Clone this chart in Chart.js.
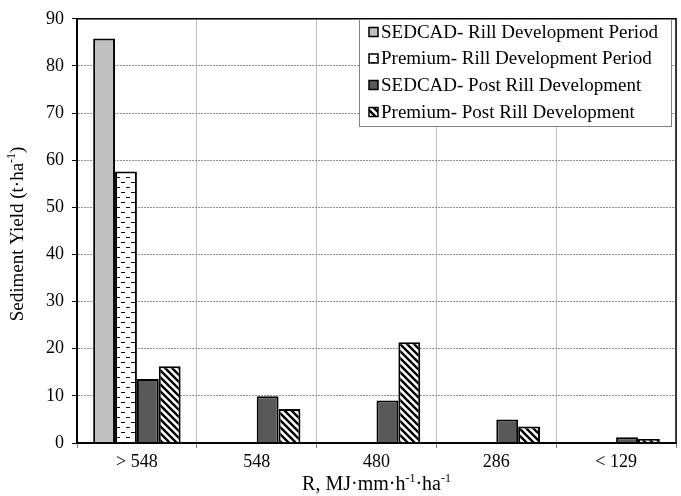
<!DOCTYPE html>
<html>
<head>
<meta charset="utf-8">
<script src="https://cdn.jsdelivr.net/npm/chart.js@4/dist/chart.umd.min.js"></script>
<style>
html,body{margin:0;padding:0;background:#fff;}
#wrap{width:681px;height:496px;position:relative;}
</style>
</head>
<body>
<div id="wrap"><canvas id="c" width="681" height="496"></canvas></div>
<script>
// ---- data ----
const categories = ['> 548', '548', '480', '286', '< 129'];
const seriesLabels = [
  'SEDCAD- Rill Development Period',
  'Premium- Rill Development Period',
  'SEDCAD- Post Rill Development',
  'Premium- Post Rill Development'
];
const sedcadRill = [85.8, null, null, null, null];
const premiumRill = [57.6, null, null, null, null];
const sedcadPost = [13.6, 9.9, 9.0, 5.0, 1.2];
const premiumPost = [16.3, 7.2, 21.4, 3.5, 0.85];
const yTicks = [0, 10, 20, 30, 40, 50, 60, 70, 80, 90];

const FONT = "'Liberation Serif', 'Times New Roman', serif";

// ---- patterns ----
function dashPattern() {
  const c = document.createElement('canvas');
  c.width = 10; c.height = 10;
  const g = c.getContext('2d');
  g.fillStyle = '#fff'; g.fillRect(0, 0, 10, 10);
  g.fillStyle = '#000';
  g.fillRect(1, 2, 4, 1);
  g.fillRect(6, 7, 4, 1);
  return g.createPattern(c, 'repeat');
}
function diagPattern() {
  const s = 7;
  const c = document.createElement('canvas');
  c.width = s; c.height = s;
  const g = c.getContext('2d');
  g.fillStyle = '#fff'; g.fillRect(0, 0, s, s);
  g.strokeStyle = '#000'; g.lineWidth = 2.4;
  g.beginPath();
  g.moveTo(-s, -s); g.lineTo(2 * s, 2 * s);
  g.moveTo(-s, 0); g.lineTo(s, 2 * s);
  g.moveTo(0, -s); g.lineTo(2 * s, s);
  g.stroke();
  return g.createPattern(c, 'repeat');
}
const fills = ['#c0c0c0', dashPattern(), '#595959', diagPattern()];
const seriesData = [sedcadRill, premiumRill, sedcadPost, premiumPost];

// ---- helpers ----
function drawRich(ctx, parts, cx, cy, size) {
  const supSize = Math.round(size * 0.62);
  let w = 0;
  parts.forEach(p => {
    ctx.font = (p.sup ? supSize : size) + 'px ' + FONT;
    p.w = ctx.measureText(p.t).width; w += p.w;
  });
  let x = cx - w / 2;
  ctx.textBaseline = 'middle';
  ctx.textAlign = 'left';
  parts.forEach(p => {
    ctx.font = (p.sup ? supSize : size) + 'px ' + FONT;
    ctx.fillText(p.t, x, p.sup ? cy - size * 0.32 : cy);
    x += p.w;
  });
}

const decor = {
  id: 'decor',
  afterDraw(chart) {
    const ctx = chart.ctx;
    const a = chart.chartArea;
    ctx.save();
    // frame
    ctx.strokeStyle = '#000';
    ctx.lineWidth = 1.5;
    ctx.strokeRect(a.left, a.top, a.right - a.left, a.bottom - a.top);
    ctx.fillStyle = '#000';
    // axis titles
    drawRich(ctx, [{t: 'R, MJ·mm·h'}, {t: '-1', sup: true}, {t: '·ha'}, {t: '-1', sup: true}],
      (a.left + a.right) / 2, 485, 20);
    ctx.save();
    ctx.translate(18, (a.top + a.bottom) / 2 + 3);
    ctx.rotate(-Math.PI / 2);
    drawRich(ctx, [{t: 'Sediment Yield (t·ha'}, {t: '-1', sup: true}, {t: ')'}], 0, 0, 19);
    ctx.restore();
    // legend
    const lx = 359, ly = 19, lw = 312, lh = 107;
    ctx.fillStyle = '#fff';
    ctx.fillRect(lx, ly, lw, lh);
    ctx.strokeStyle = '#808080';
    ctx.lineWidth = 1;
    ctx.strokeRect(lx + 0.5, ly + 0.5, lw, lh);
    const rows = [32, 58.5, 85, 112];
    chart.data.datasets.forEach((ds, i) => {
      const y = rows[i];
      ctx.fillStyle = ds.backgroundColor;
      ctx.fillRect(369, y - 4.5, 9, 9);
      ctx.strokeStyle = '#000';
      ctx.lineWidth = 1.5;
      ctx.strokeRect(369, y - 4.5, 9, 9);
      ctx.fillStyle = '#000';
      ctx.font = '19px ' + FONT;
      ctx.textAlign = 'left';
      ctx.textBaseline = 'middle';
      ctx.fillText(ds.label, 381, y + 1);
    });
    ctx.restore();
  }
};

new Chart(document.getElementById('c'), {
  type: 'bar',
  data: {
    labels: categories,
    datasets: seriesData.map((d, i) => ({
      label: seriesLabels[i],
      data: d,
      backgroundColor: fills[i],
      borderColor: '#000',
      borderWidth: 2,
      categoryPercentage: 0.73,
      barPercentage: 1.0
    }))
  },
  options: {
    responsive: false,
    animation: false,
    layout: {padding: {left: 0, top: 15, right: 5, bottom: 0}},
    plugins: {legend: {display: false}, tooltip: {enabled: false}, title: {display: false}},
    scales: {
      x: {
        grid: {color: '#c0c0c0', lineWidth: 1, offset: true, tickLength: 5, tickColor: '#808080'},
        border: {color: '#000', width: 2},
        ticks: {color: '#000', font: {family: FONT, size: 18}, padding: 3, maxRotation: 0},
        afterFit(s) { s.height = 53; }
      },
      y: {
        min: 0, max: 90,
        afterBuildTicks(s) { s.ticks = yTicks.map(v => ({value: v})); },
        grid: {color: '#909090', lineWidth: 1, tickLength: 5, tickColor: '#000', tickBorderDash: [], tickWidth: 1},
        border: {color: '#000', width: 2, dash: [2, 1]},
        ticks: {color: '#000', font: {family: FONT, size: 18}, padding: 8},
        afterFit(s) { s.width = 77; }
      }
    }
  },
  plugins: [decor]
});
</script>
</body>
</html>
